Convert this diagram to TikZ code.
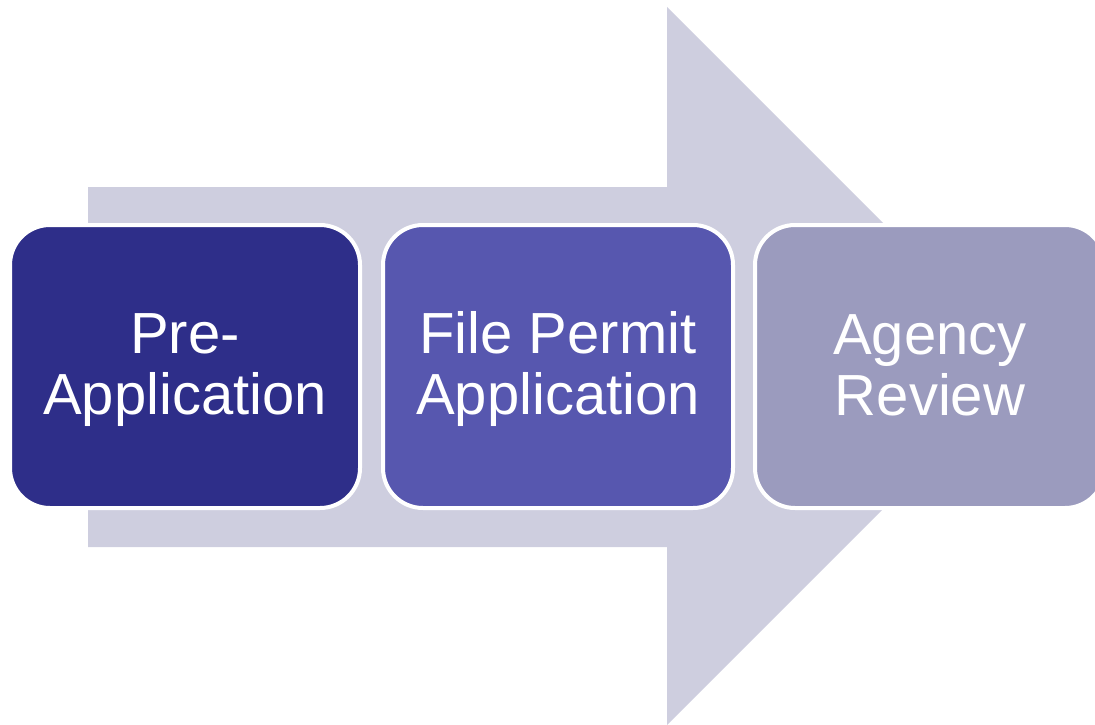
\documentclass[tikz,border=0pt]{standalone}
\usepackage{fontspec}
\setmainfont{Liberation Sans}
\definecolor{arrowc}{RGB}{206,206,223}
\definecolor{boxa}{RGB}{46,46,137}
\definecolor{boxb}{RGB}{87,87,175}
\definecolor{boxc}{RGB}{155,155,190}
\newcommand\lnstrut{\rule[-12pt]{0pt}{60pt}}
\begin{document}
\begin{tikzpicture}[x=1pt,y=-1pt,
  stepbox/.style={draw=white, line width=4pt, rounded corners=40pt,
    minimum width=350pt, minimum height=283pt, inner sep=0pt,
    text=white, align=center, font=\fontsize{58}{61}\selectfont}]
\useasboundingbox (0,0) rectangle (1095,725);
\fill[arrowc] (88,187) -- (667,187) -- (667,7) -- (1026,366) -- (667,725) -- (667,547) -- (88,547) -- cycle;
\node[stepbox, fill=boxa] (pre) at (185,366.5) {\lnstrut Pre-\\\lnstrut Application};
\node[stepbox, fill=boxb] (file) at (558,366.5) {\lnstrut File Permit\\\lnstrut Application};
\node[stepbox, fill=boxc] (agency) at (930,366.5) {\lnstrut Agency\\\lnstrut Review};
\end{tikzpicture}
\end{document}
